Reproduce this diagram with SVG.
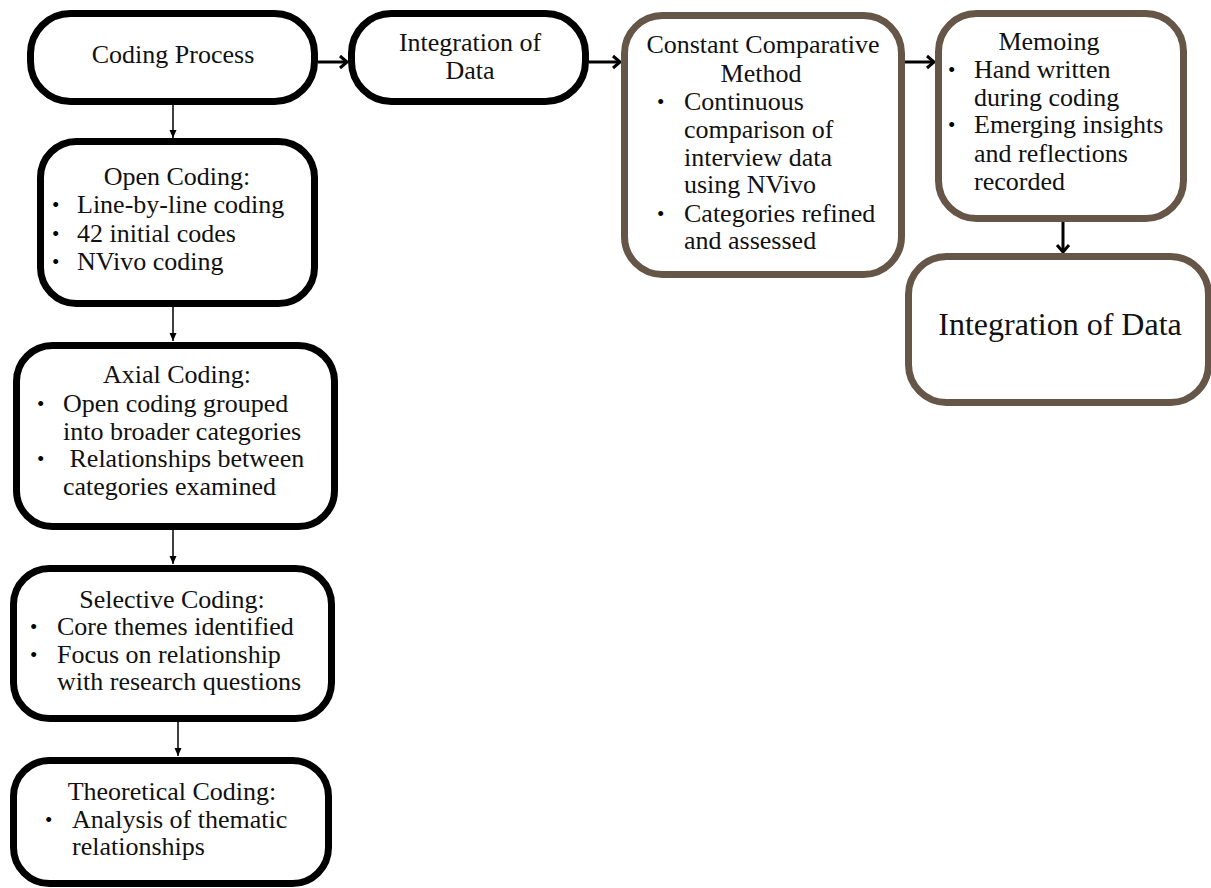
<svg xmlns="http://www.w3.org/2000/svg" width="1211" height="888" viewBox="0 0 1211 888">
<style>
  .box { fill: #ffffff; stroke: #000000; stroke-width: 7; }
  .brown { stroke: #655647; }
  text { font-family: "Liberation Serif", "Times New Roman", serif; font-size: 26px; fill: #111111; }
  .c { text-anchor: middle; }
  .big { font-size: 32px; }
  .b { font-size: 21px; fill: #000000; }
  .thick { stroke: #000; stroke-width: 3; fill: none; }
  .thin { stroke: #000; stroke-width: 1.5; fill: none; }
</style>
<defs>
  <marker id="chev" markerUnits="userSpaceOnUse" markerWidth="16" markerHeight="16" viewBox="0 0 16 16" refX="13" refY="8" orient="auto">
    <path d="M6,2 L13,8 L6,14" fill="none" stroke="#000" stroke-width="3"/>
  </marker>
  <marker id="tri" markerUnits="userSpaceOnUse" markerWidth="10" markerHeight="10" viewBox="0 0 10 10" refX="9" refY="5" orient="auto">
    <path d="M1,1.5 L9,5 L1,8.5 Z" fill="#000"/>
  </marker>
</defs>
<rect width="1211" height="888" fill="#ffffff"/>

<g id="connectors">
  <line class="thick" x1="318" y1="62" x2="347" y2="62" marker-end="url(#chev)"/>
  <line class="thick" x1="589" y1="62" x2="620" y2="62" marker-end="url(#chev)"/>
  <line class="thick" x1="905" y1="62" x2="934" y2="62" marker-end="url(#chev)"/>
  <line class="thick" x1="1063" y1="222" x2="1063" y2="252" marker-end="url(#chev)"/>
  <line class="thin" x1="173" y1="105" x2="173" y2="138" marker-end="url(#tri)"/>
  <line class="thin" x1="173" y1="307" x2="173" y2="341" marker-end="url(#tri)"/>
  <line class="thin" x1="173" y1="530" x2="173" y2="564" marker-end="url(#tri)"/>
  <line class="thin" x1="178" y1="722" x2="178" y2="756" marker-end="url(#tri)"/>
</g>

<g id="coding-process">
  <rect class="box" x="30.5" y="13.5" width="284" height="88" rx="40"/>
  <text class="c" x="173" y="63">Coding Process</text>
</g>

<g id="integration-1">
  <rect class="box" x="351.5" y="13.5" width="234" height="88" rx="40"/>
  <text class="c" x="470" y="51">Integration of</text>
  <text class="c" x="470" y="79">Data</text>
</g>

<g id="constant-comparative">
  <rect class="box brown" x="624.5" y="15.5" width="277" height="259" rx="38"/>
  <text class="c" x="763" y="53">Constant Comparative</text>
  <text class="c" x="761" y="82">Method</text>
  <text class="b" x="657" y="109">•</text>
  <text x="684" y="110">Continuous</text>
  <text x="684" y="138">comparison of</text>
  <text x="684" y="166">interview data</text>
  <text x="684" y="193">using NVivo</text>
  <text class="b" x="657" y="221">•</text>
  <text x="684" y="222">Categories refined</text>
  <text x="684" y="249">and assessed</text>
</g>

<g id="memoing">
  <rect class="box brown" x="938.5" y="13.5" width="245" height="205" rx="38"/>
  <text class="c" x="1049" y="50">Memoing</text>
  <text class="b" x="948" y="77">•</text>
  <text x="974" y="78">Hand written</text>
  <text x="974" y="106">during coding</text>
  <text class="b" x="948" y="132">•</text>
  <text x="974" y="133">Emerging insights</text>
  <text x="974" y="162">and reflections</text>
  <text x="974" y="190">recorded</text>
</g>

<g id="integration-2">
  <rect class="box brown" x="908.5" y="256.5" width="300" height="146" rx="38"/>
  <text class="c big" x="1060" y="335">Integration of Data</text>
</g>

<g id="open-coding">
  <rect class="box" x="40.5" y="141.5" width="274" height="162" rx="36"/>
  <text class="c" x="177" y="185">Open Coding:</text>
  <text class="b" x="52" y="212">•</text>
  <text x="77" y="213">Line-by-line coding</text>
  <text class="b" x="52" y="241">•</text>
  <text x="77" y="242">42 initial codes</text>
  <text class="b" x="52" y="269">•</text>
  <text x="77" y="270">NVivo coding</text>
</g>

<g id="axial-coding">
  <rect class="box" x="16.5" y="345.5" width="318" height="181" rx="36"/>
  <text class="c" x="177" y="383">Axial Coding:</text>
  <text class="b" x="37" y="411">•</text>
  <text x="63" y="412">Open coding grouped</text>
  <text x="63" y="440">into broader categories</text>
  <text class="b" x="37" y="466">•</text>
  <text x="63" y="467" xml:space="preserve"> Relationships between</text>
  <text x="63" y="495">categories examined</text>
</g>

<g id="selective-coding">
  <rect class="box" x="13.5" y="568.5" width="318" height="150" rx="36"/>
  <text class="c" x="172" y="608">Selective Coding:</text>
  <text class="b" x="30" y="634">•</text>
  <text x="57" y="635">Core themes identified</text>
  <text class="b" x="30" y="662">•</text>
  <text x="57" y="663">Focus on relationship</text>
  <text x="57" y="690">with research questions</text>
</g>

<g id="theoretical-coding">
  <rect class="box" x="13.5" y="760.5" width="315" height="123" rx="36"/>
  <text class="c" x="172" y="800">Theoretical Coding:</text>
  <text class="b" x="45" y="827">•</text>
  <text x="72" y="828">Analysis of thematic</text>
  <text x="72" y="855">relationships</text>
</g>
</svg>
